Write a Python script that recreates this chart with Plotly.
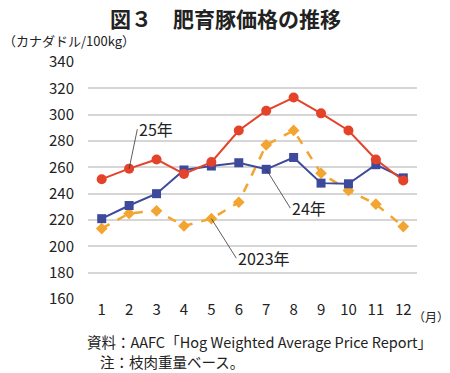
import plotly.graph_objects as go

months = [1, 2, 3, 4, 5, 6, 7, 8, 9, 10, 11, 12]
month_labels = ["1", "2", "3", "4", "5", "6", "7", "8", "9", "10", "11", "12"]
price_2025 = [251, 259, 266, 255, 264, 288, 303, 313, 301, 288, 266, 250]
price_2024 = [221, 231, 240, 258, 261, 263.5, 258.5, 267.5, 248, 247.5, 262, 252]
price_2023 = [213.5, 225, 227, 215.5, 221, 233.5, 277, 288, 255.5, 242.5, 232, 215]
y_ticks = [160, 180, 200, 220, 240, 260, 280, 300, 320, 340]

FONT = "Noto Sans CJK JP"
TXT = "#222222"
RED = "#E4432A"
BLUE = "#3D4A9C"
ORANGE = "#F2A530"

fig = go.Figure()
fig.add_trace(go.Scatter(
    x=months, y=price_2023, mode="lines+markers", name="2023年",
    line=dict(color=ORANGE, width=2.5, dash="dash"),
    marker=dict(symbol="diamond", size=9, color=ORANGE)))
fig.add_trace(go.Scatter(
    x=months, y=price_2024, mode="lines+markers", name="24年",
    line=dict(color=BLUE, width=2),
    marker=dict(symbol="square", size=9, color=BLUE)))
fig.add_trace(go.Scatter(
    x=months, y=price_2025, mode="lines+markers", name="25年",
    line=dict(color=RED, width=2),
    marker=dict(symbol="circle", size=10, color=RED)))

def leader(text, xi, yvals, ax, ay):
    fig.add_annotation(
        x=months[xi], y=yvals[xi], ax=ax, ay=ay, axref="x", ayref="y",
        xref="x", yref="y", text=text, showarrow=True, arrowhead=0,
        arrowwidth=0.8, arrowcolor="#333333", xanchor="left", yanchor="middle",
        font=dict(family=FONT, size=16, color=TXT, weight=400), borderpad=1)

leader("25年", 1, price_2025, 2.30, 289)
leader("24年", 6, price_2024, 7.88, 229)
leader("2023年", 4, price_2023, 5.91, 191)

def label(text, x, xshift, y, yshift, xanchor, size, weight=400):
    fig.add_annotation(text=text, xref="paper", yref="paper", x=x, xshift=xshift,
                       y=y, yshift=yshift, xanchor=xanchor, yanchor="middle",
                       showarrow=False,
                       font=dict(family=FONT, size=size, color=TXT, weight=weight))

label("図３　肥育豚価格の推移", 0.5, -27, 1, 44, "center", 21, 700)
label("（カナダドル/100kg）", 0, -87, 1, 22, "left", 13)
label("（月）", 1, -6, 0, -17, "left", 12)
label("資料：AAFC「Hog Weighted Average Price Report」", 0, -3, 0, -42, "left", 14.5)
label("注：枝肉重量ベース。", 0, 10, 0, -62, "left", 14.5)

fig.update_layout(
    width=450, height=373,
    margin=dict(l=88, r=33, t=62, b=74),
    paper_bgcolor="white", plot_bgcolor="white",
    showlegend=False,
    font=dict(family=FONT, color=TXT),
)

fig.update_xaxes(range=[0.5, 12.5], tickvals=months, ticktext=month_labels,
                 showgrid=False, zeroline=False, showline=False, ticks="",
                 tickfont=dict(family=FONT, size=15, color=TXT))
fig.update_yaxes(range=[160, 340], tickvals=y_ticks, showgrid=True,
                 gridcolor="#D6D6D6", gridwidth=1.5, zeroline=False, showline=False,
                 ticks="", ticklabelstandoff=13,
                 tickfont=dict(family=FONT, size=15, color=TXT))

fig.write_html("out.html", config={"displayModeBar": False},
               post_script="document.body.style.margin='0';document.body.style.overflow='hidden';")
